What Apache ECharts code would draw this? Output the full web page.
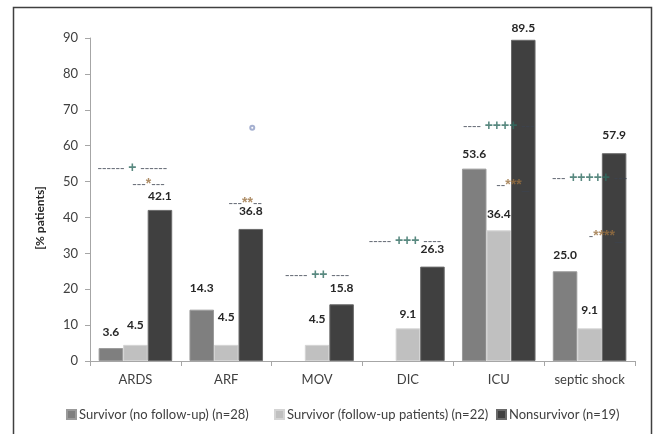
<!DOCTYPE html>
<html>
<head>
<meta charset="utf-8">
<script src="https://cdn.jsdelivr.net/npm/echarts@6/dist/echarts.min.js"></script>
<style>
  html, body { margin: 0; padding: 0; background: #fff; }
  #chart { width: 653px; height: 434px; }
</style>
</head>
<body>
<div id="chart"></div>
<script>
// Complications by outcome group, share of patients in percent
const categories = ['ARDS', 'ARF', 'MOV', 'DIC', 'ICU', 'septic shock'];
const seriesNames = [
  'Survivor (no follow-up) (n=28)',
  'Survivor (follow-up patients) (n=22)',
  'Nonsurvivor (n=19)'
];
const survivorNoFollowUp = [3.6, 14.3, null, null, 53.6, 25.0];
const survivorFollowUp = [4.5, 4.5, 4.5, 9.1, 36.4, 9.1];
const nonsurvivor = [42.1, 36.8, 15.8, 26.3, 89.5, 57.9];
const yTicks = [0, 10, 20, 30, 40, 50, 60, 70, 80, 90];

// Significance markers: category, height on the value axis, text
const markCategory = ['ARDS', 'ARDS', 'ARF', 'MOV', 'DIC', 'ICU', 'ICU', 'septic shock', 'septic shock'];
const markValue = [53.7, 49.3, 44.0, 24.0, 33.4, 65.4, 49.0, 51.0, 34.8];
const markText = [
  '------ + ------', '---*---', '---**--', '----- ++ ----', '----- +++ ----',
  '---- ++++ ---', '--***_', '--- +++++ ---', '-****_'
];
// stray outline dot above the ARF group
const dotCategory = ['ARF'];
const dotValue = [65.0];

// horizontal nudge of each marker relative to its category centre (px)
const markShift = [-3, 13, 19, 0, -3, 0, 14, 0, 16];
const dotShift = [26];
// extra lift of individual value labels (px)
const liftNoFollowUp = [6, 12, 0, 0, 5, 6];
const liftFollowUp = [10, 18, 16, 4, 6, 8];
const liftNonsurvivor = [4, 8, 6, 7, 2, 8];
// left edge of each legend entry (px)
const legendLeft = [61, 269, 491];

const FONT = 'Lato';
const colors = ['#7f7f7f', '#c0c0c0', '#404040'];
const borders = ['#9a9a9a', '#d4d4d4', '#6a6a6a'];

function barSeries(idx, values, lifts) {
  return {
    name: seriesNames[idx],
    type: 'bar',
    barGap: '0%',
    barCategoryGap: '19%',
    data: values.map((v, i) => ({
      value: v,
      label: { distance: 4 + lifts[i] }
    })),
    itemStyle: { color: colors[idx], borderColor: borders[idx], borderWidth: 1 },
    label: {
      show: true,
      position: 'top',
      fontFamily: FONT,
      fontWeight: 'bold',
      fontSize: 12,
      color: '#262626',
      formatter: p => (p.value == null ? '' : p.value.toFixed(1))
    },
    emphasis: { disabled: true }
  };
}

function markRich(text) {
  // wrap runs of + and * in their own rich styles
  return text
    .replace(/(\++)/g, '{p|$1}')
    .replace(/(\*+)/g, '{s|$1}')
    .split(/(\{[ps]\|[^}]*\})/)
    .map(part => (part.startsWith('{') || part === '' ? part : '{d|' + part + '}'))
    .join('');
}

const markSeries = {
  type: 'scatter',
  symbolSize: 0,
  silent: true,
  z: 5,
  data: markCategory.map((c, i) => ({
    value: [categories.indexOf(c), markValue[i]],
    label: { offset: [markShift[i], 0] }
  })),
  label: {
    show: true,
    position: 'inside',
    formatter: p => markRich(markText[p.dataIndex]),
    rich: {
      d: { fontFamily: 'Liberation Sans', fontSize: 13.5, color: '#3c4450' },
      p: { fontFamily: 'Liberation Sans', fontSize: 14, fontWeight: 'bold', color: '#2f6b60' },
      s: { fontFamily: 'Liberation Sans', fontSize: 14, fontWeight: 'bold', color: '#9a7040' }
    }
  }
};

const dotSeries = {
  type: 'scatter',
  symbol: 'emptyCircle',
  symbolSize: 4,
  silent: true,
  data: dotCategory.map((c, i) => ({
    value: [categories.indexOf(c), dotValue[i]],
    symbolOffset: [dotShift[i], 0]
  })),
  itemStyle: { color: '#8e9cc4', borderWidth: 1 }
};

const legends = seriesNames.map((name, i) => ({
  left: legendLeft[i],
  top: 403,
  icon: 'rect',
  itemWidth: 9,
  itemHeight: 9,
  selectedMode: false,
  textStyle: { fontFamily: FONT, fontSize: 13, color: '#404040', padding: [0, 0, 0, -2] },
  data: [name]
}));

const chart = echarts.init(document.getElementById('chart'));
chart.setOption({
  animation: false,
  backgroundColor: '#fff',
  textStyle: { fontFamily: FONT },
  grid: { left: 90, right: 18, top: 38, bottom: 73, containLabel: false },
  xAxis: {
    type: 'category',
    data: categories,
    axisLine: { lineStyle: { color: '#a6a6a6', width: 1 } },
    axisTick: { show: true, interval: 0, length: 5, lineStyle: { color: '#a6a6a6' } },
    axisLabel: { interval: 0, fontFamily: FONT, fontSize: 13, color: '#404040', margin: 12 }
  },
  yAxis: {
    type: 'value',
    min: yTicks[0],
    max: yTicks[yTicks.length - 1],
    interval: yTicks[1] - yTicks[0],
    axisLine: { show: true, lineStyle: { color: '#a6a6a6', width: 1 } },
    axisTick: { show: true, length: 5, lineStyle: { color: '#a6a6a6' } },
    splitLine: { show: false },
    axisLabel: { fontFamily: FONT, fontSize: 13, color: '#404040', margin: 12 }
  },
  legend: legends,
  graphic: [
    {
      type: 'rect',
      shape: { x: 13.5, y: 7.5, width: 638, height: 440 },
      style: { fill: null, stroke: '#404040', lineWidth: 1.5 },
      silent: true
    },
    {
      type: 'text',
      x: 40,
      y: 218,
      rotation: Math.PI / 2,
      style: {
        text: '[% patients]',
        fontFamily: FONT,
        fontSize: 12,
        fontWeight: 'bold',
        fill: '#262626',
        align: 'center',
        verticalAlign: 'middle'
      },
      silent: true
    }
  ],
  series: [
    barSeries(0, survivorNoFollowUp, liftNoFollowUp),
    barSeries(1, survivorFollowUp, liftFollowUp),
    barSeries(2, nonsurvivor, liftNonsurvivor),
    markSeries,
    dotSeries
  ]
});
</script>
</body>
</html>
